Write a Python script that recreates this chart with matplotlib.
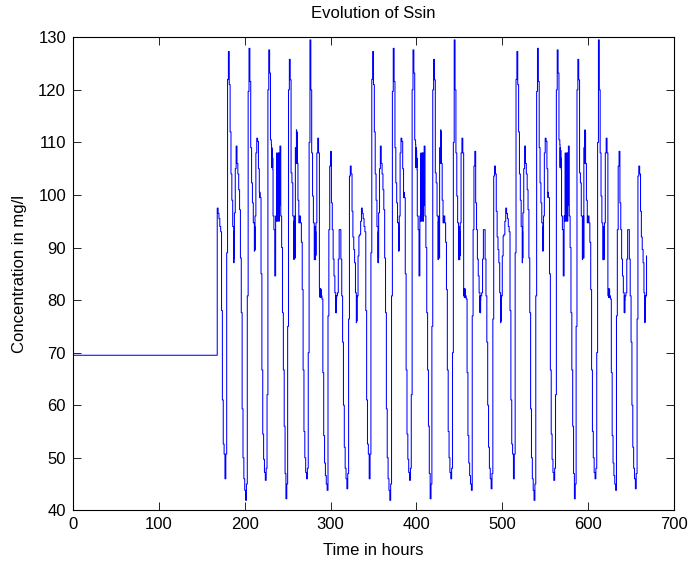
#!/usr/bin/python3

import matplotlib
matplotlib.use('Agg')
import matplotlib.pyplot as plt

# level before the dynamic input starts (hours 0-168)
start_level = 69.5
start_time = 168
end_time = 668
n_weeks = 3

# hourly Ssin values of one week (mg/l)
mon = [97.5, 96.5, 95.5, 94, 93, 78, 61, 52.6, 50.7, 46, 50.7, 89,
       122, 127.3, 121, 112, 104, 99, 94, 87.1, 96.6, 105, 109.3, 106]
tue = [104, 101, 97.2, 88, 77.6, 59.3, 50, 46, 43.8, 41.9, 45, 80.8,
       119.7, 127.9, 121.6, 109, 102.3, 98.5, 94.7, 89.3, 96, 108, 110.8, 110.2]
wed = [105, 100, 99.5, 85, 66.7, 54.5, 49.7, 47.2, 45.7, 48, 62, 120,
       127.6, 123.2, 110.5, 107, 106, 96, 93.4, 84.6, 96, 102, 104, 103]
thu = [104, 109.3, 96, 90, 77.6, 66.7, 56, 47, 42.2, 45, 75, 120,
       125.8, 121.9, 104.2, 102.3, 96, 92, 91, 109, 110, 106, 99, 94.7]
fri = [96, 94.7, 91, 82, 66.7, 55, 50, 47.2, 46, 48, 70, 110,
       129.5, 120, 108, 99.8, 94.7, 87.7, 90, 94.7, 108, 110.8, 108, 82.2]
sat = [82, 80.8, 80.2, 66.2, 54.2, 49, 46.6, 45, 43.8, 77, 93.4, 105.5,
       108.3, 98.5, 93.4, 87.8, 84.6, 81.4, 77.6, 80.8, 81.4, 87.8, 93.4, 93.4]
sun = [87.8, 80.8, 72, 60, 52, 48, 46, 44.1, 47, 76.4, 103.6, 105.5,
       104, 96.9, 92, 89.6, 87.1, 81.4, 77, 80.8, 88.4, 92.2, 92.5, 95]
week = [mon, tue, wed, thu, fri, sat, sun]

# hours with fast fluctuations: (day, hour) and the quarter-hour values
noise_slots = [(0, 19), (1, 19), (2, 1), (2, 15), (2, 16), (2, 21), (2, 22),
               (2, 23), (3, 0), (3, 17), (3, 18), (3, 20), (4, 18),
               (4, 23), (5, 0), (5, 18), (6, 18)]
noise_vals = [[94, 87.1, 93, 88],
              [94.7, 89.3, 94, 89.5],
              [100.5, 99.5, 100.5, 99.5],
              [109.6, 105.2, 109, 105.5],
              [108.5, 105.2, 107, 104.8],
              [95, 108, 96, 107],
              [101, 106, 95, 108],
              [100, 105, 97, 108],
              [95, 103, 98, 107],
              [96, 87.7, 95, 88],
              [94, 88.5, 96, 88],
              [106.1, 112.4, 106, 112],
              [94, 87.7, 93, 88.5],
              [82.2, 80.8, 82, 80.5],
              [81, 82.2, 80.5, 82],
              [77.6, 80.8, 77.6, 80],
              [75.7, 80.8, 76, 80.5]]
noise = dict(zip(noise_slots, noise_vals))

t = [0]
ssin = [start_level]
for w in range(n_weeks):
    for d, day in enumerate(week):
        for h, v in enumerate(day):
            t0 = start_time + 168 * w + 24 * d + h
            if t0 > end_time:
                break
            if (d, h) in noise:
                for k, q in enumerate(noise[(d, h)]):
                    t.append(t0 + 0.25 * k)
                    ssin.append(q)
            else:
                t.append(t0)
                ssin.append(v)

plt.rcParams['font.family'] = ['Liberation Sans', 'DejaVu Sans']
plt.rcParams['font.size'] = 12

fig = plt.figure(figsize=(6.9, 5.61), dpi=100)
ax = fig.add_axes([73 / 690, 50.7 / 561, 601 / 690, 473 / 561])
ax.plot(t, ssin, color='#0000ff', lw=0.75, drawstyle='steps-post')
ax.set_xlim(0, 700)
ax.set_ylim(40, 130)
ax.set_xticks(range(0, 701, 100))
ax.set_yticks(range(40, 131, 10))
ax.tick_params(direction='in', length=6, width=0.6, top=True, right=True, pad=5)
for s in ax.spines.values():
    s.set_linewidth(0.8)
ax.set_title('Evolution of Ssin', fontsize=12, pad=14)
ax.set_xlabel('Time in hours', labelpad=8)
ax.set_ylabel('Concentration in mg/l', labelpad=8)
fig.savefig('out.png', dpi=100)
